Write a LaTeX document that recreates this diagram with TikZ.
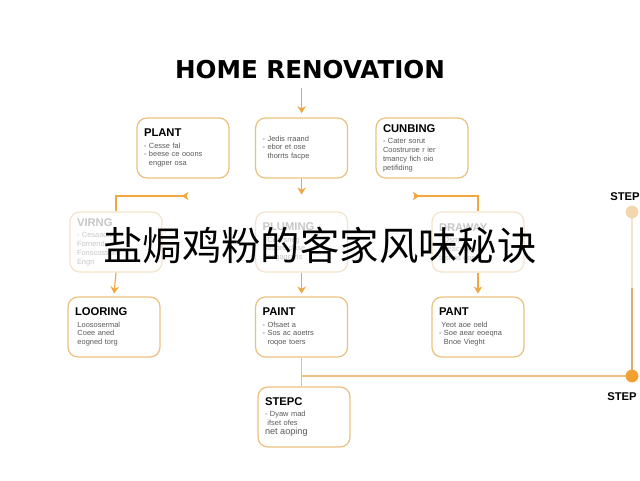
\documentclass[tikz,border=0pt]{standalone}
\usepackage{fontspec}
\setmainfont{Liberation Sans}
\newfontfamily\titlefont{DejaVu Sans}
\newfontfamily\cjk{Noto Sans CJK SC}
\usetikzlibrary{arrows.meta,positioning,calc}
\definecolor{renoBorder}{HTML}{EAC27F}
\definecolor{renoOrange}{HTML}{F2A030}
\definecolor{renoFade}{HTML}{F2E4CC}
\definecolor{renoText}{HTML}{5A5A5A}

\begin{document}
\begin{tikzpicture}[>={Stealth[length=5pt,width=6pt]},font=\fontsize{5.3}{6.3}\selectfont,
  stepbox/.style={draw=renoBorder,line width=0.9pt,fill=white,rounded corners=7pt,
    minimum width=2.3cm,minimum height=1.5cm,text width=1.95cm,align=left,text=renoText},
  fadebox/.style={stepbox,draw=renoFade,text=black!22},
  flow/.style={draw=renoOrange!80!renoBorder,line width=0.8pt}]
  \useasboundingbox[fill=white] (0,0) rectangle (16,12);

  \node[font=\titlefont\fontsize{17.5}{20}\selectfont\bfseries] (title) at (7.75,10.25) {HOME RENOVATION};

  % top row
  \foreach \x/\name/\label in {
    4.575/plant/{{\color{black}\fontsize{8}{9}\selectfont\bfseries PLANT}\\[2pt]- Cesse fal\\- beese ce ooons\\\ \ engper osa},
    7.54/survey/{- Jedis rraand\\- ebor et ose\\\ \ thorrts facpe},
    10.55/cunbing/{{\color{black}\fontsize{8}{9}\selectfont\bfseries CUNBING}\\[2pt]- Cater sorut\\Coostruroe r ier\\tmancy fich oio\\petifiding}}
  {
    \node[stepbox] (\name) at (\x,8.3) {\label};
  }

  % faded row
  \foreach \x/\name/\label in {
    2.9/wiring/{{\fontsize{8}{9}\selectfont\bfseries VIRNG}\\[2pt]- Cesaaon\\Fornend\\Fonscostine\\Engn},
    7.54/pluming/{{\fontsize{8}{9}\selectfont\bfseries PLUMING}\\[2pt]- Cearsneg\\Sadore dase\\Sncgagrans},
    11.95/draway/{{\fontsize{8}{9}\selectfont\bfseries DRAWAY}\\[2pt]- Dsmal\\Sceaconee\\fasnos eoer}}
  {
    \node[fadebox] (\name) at (\x,5.95) {\label};
  }

  % lower row
  \foreach \x/\name/\label in {
    2.85/looring/{{\color{black}\fontsize{8}{9}\selectfont\bfseries LOORING}\\[2pt]\ Loososermal\\\ Coee aned\\\ eogned torg},
    7.54/paint/{{\color{black}\fontsize{8}{9}\selectfont\bfseries PAINT}\\[2pt]- Ofsaet a\\- Sos ac aoetrs\\\ \ roqoe toers},
    11.95/pant/{{\color{black}\fontsize{8}{9}\selectfont\bfseries PANT}\\[2pt]\ Yeot aoe oeld\\- Soe aear eoeqna\\\ \ Bnoe Vieght}}
  {
    \node[stepbox] (\name) at (\x,3.825) {\label};
  }

  \node[stepbox] (stepc) at (7.6,1.575) {{\color{black}\fontsize{8}{9}\selectfont\bfseries STEPC}\\[2pt]- Dyaw mad\\\ ifset ofes\\{\fontsize{6.5}{7}\selectfont net aoping}};

  % connectors
  \draw[flow,->] (title.south -| survey.north) ++(0,-0.1) coordinate (tdrop) -- ([yshift=3pt]survey.north);
  \draw[flow,->] (survey.south) -- ([yshift=12pt]pluming.north);
  \coordinate (lfork) at (4.625,7.1);
  \coordinate (rfork) at (10.375,7.1);
  \draw[flow] (lfork) -| (wiring.north);
  \draw[flow,->] ([xshift=1pt]lfork) -- ++(-0.12,0);
  \draw[flow] (rfork) -| (draway.north);
  \draw[flow,->] ([xshift=-1pt]rfork) -- ++(0.15,0);
  \foreach \a/\b in {wiring/looring,pluming/paint,draway/pant}
    \draw[flow,->] (\a.south) -- ([yshift=2pt]\b.north);

  % step rail
  \coordinate (railtop) at (15.8,6.7);
  \coordinate (railend) at (15.8,2.6);
  \draw[draw=renoBorder,line width=0.8pt] (paint.south) -- (paint.south |- stepc.north);
  \draw[draw=renoBorder,line width=0.8pt] (paint.south |- railend) -- (railend);
  \draw[draw=renoFade,line width=0.8pt] (railend) -- (railtop);
  \draw[draw=renoBorder!90!black,line width=0.8pt] (railend) -- ++(0,2.2);
  \fill[renoFade!80!renoOrange] (railtop) circle (0.16);
  \fill[renoOrange] (railend) circle (0.16);
  \node[font=\fontsize{8}{9}\selectfont\bfseries] (steptop) at (15.625,7.075) {STEP};
  \node[font=\fontsize{8}{9}\selectfont\bfseries] (stepbot) at (15.55,2.075) {STEP};

  % overlay caption
  \node[font=\cjk\fontsize{28}{32}\selectfont] (caption) at (8,5.875) {盐焗鸡粉的客家风味秘诀};
\end{tikzpicture}
\end{document}
